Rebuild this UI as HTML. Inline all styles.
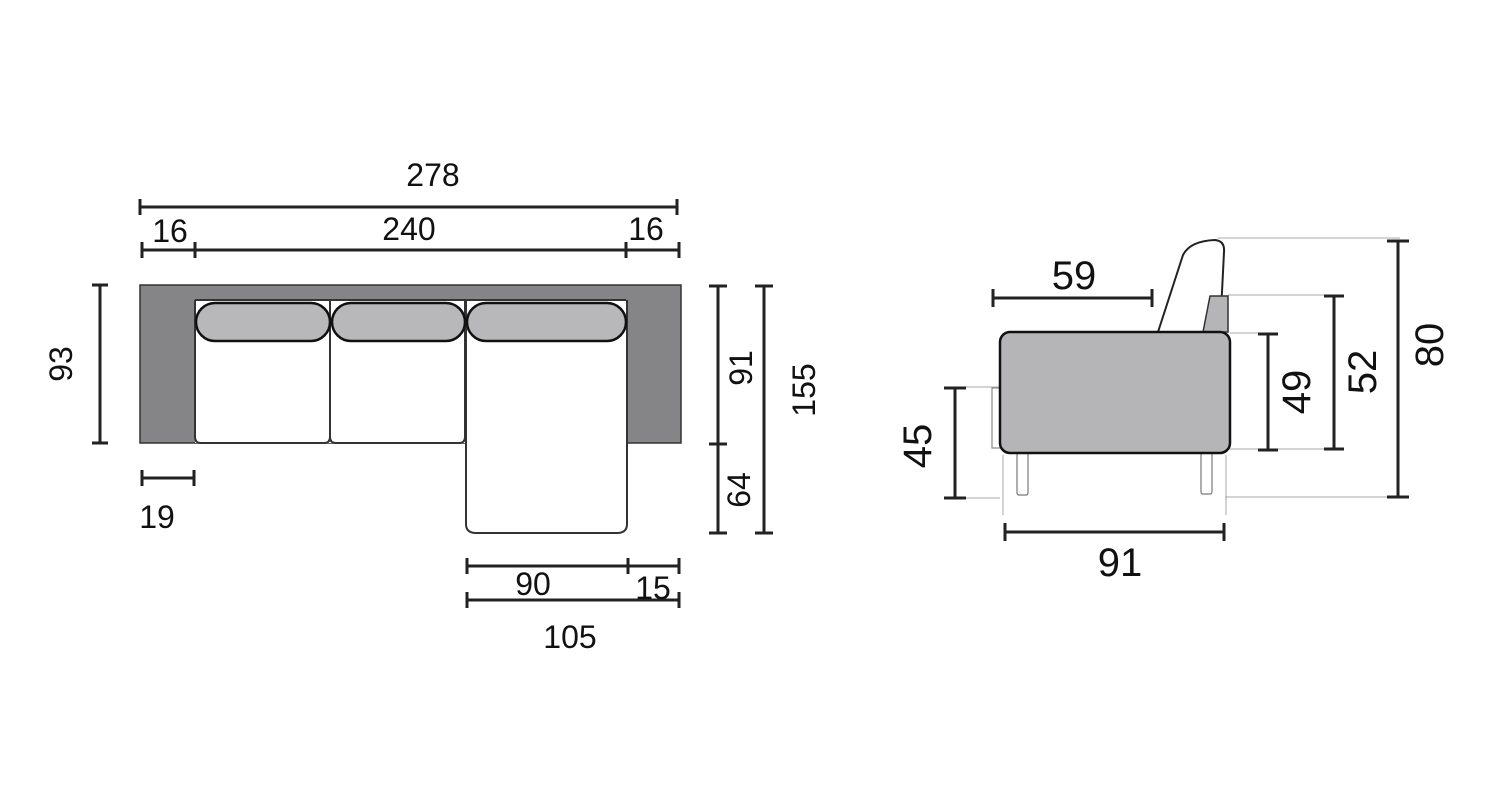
<!DOCTYPE html>
<html><head><style>
html,body{margin:0;padding:0;background:#fff;}
svg{display:block;}
text{font-family:"Liberation Sans",sans-serif;fill:#111;}
</style></head><body>
<svg width="1500" height="800" viewBox="0 0 1500 800" xmlns="http://www.w3.org/2000/svg">
<g stroke="#222" stroke-width="3" fill="none">
  <line x1="140" y1="207" x2="677" y2="207"/><line x1="140" y1="199" x2="140" y2="215"/><line x1="677" y1="199" x2="677" y2="215"/>
  <line x1="142" y1="250" x2="679" y2="250"/>
  <line x1="142" y1="242" x2="142" y2="258"/><line x1="195" y1="242" x2="195" y2="258"/><line x1="626" y1="242" x2="626" y2="258"/><line x1="679" y1="242" x2="679" y2="258"/>
  <line x1="100" y1="285" x2="100" y2="443"/><line x1="92" y1="285" x2="108" y2="285"/><line x1="92" y1="443" x2="108" y2="443"/>
  <line x1="718" y1="286" x2="718" y2="533"/><line x1="709" y1="286" x2="727" y2="286"/><line x1="709" y1="444" x2="727" y2="444"/><line x1="709" y1="533" x2="727" y2="533"/>
  <line x1="764" y1="286" x2="764" y2="533"/><line x1="755" y1="286" x2="773" y2="286"/><line x1="755" y1="533" x2="773" y2="533"/>
  <line x1="142" y1="478" x2="194" y2="478"/><line x1="142" y1="470" x2="142" y2="486"/><line x1="194" y1="470" x2="194" y2="486"/>
  <line x1="467" y1="566" x2="679" y2="566"/><line x1="467" y1="558" x2="467" y2="574"/><line x1="628" y1="558" x2="628" y2="574"/><line x1="679" y1="558" x2="679" y2="574"/>
  <line x1="467" y1="600" x2="679" y2="600"/><line x1="467" y1="592" x2="467" y2="608"/><line x1="679" y1="592" x2="679" y2="608"/>
</g>
<rect x="140" y="285" width="541" height="158" fill="#858588" stroke="#333" stroke-width="1.5"/>
<rect x="195" y="300" width="431" height="143" fill="#fff"/>
<g fill="#fff" stroke="#333" stroke-width="2">
  <path d="M195 300 V437 Q195 443 201 443 H324 Q330 443 330 437 V300"/>
  <path d="M330 300 V437 Q330 443 336 443 H459 Q465 443 465 437 V300"/>
  <path d="M466 300 V524 Q466 533 476 533 H617 Q627 533 627 524 V300"/>
</g>
<line x1="195" y1="300" x2="626" y2="300" stroke="#333" stroke-width="2"/>
<g fill="#b8b8ba" stroke="#111" stroke-width="2.5">
  <rect x="196" y="303" width="134" height="38" rx="19"/>
  <rect x="332" y="303" width="133" height="38" rx="19"/>
  <rect x="467" y="303" width="159" height="38" rx="19"/>
</g>
<g font-size="32" text-anchor="middle">
  <text x="433" y="186">278</text>
  <text x="170" y="242">16</text>
  <text x="409" y="240">240</text>
  <text x="646" y="240">16</text>
  <text x="157" y="528">19</text>
  <text x="533" y="595">90</text>
  <text x="653" y="599">15</text>
  <text x="570" y="648">105</text>
  <text transform="translate(72,364) rotate(-90)">93</text>
  <text transform="translate(752,368) rotate(-90)">91</text>
  <text transform="translate(750,490) rotate(-90)">64</text>
  <text transform="translate(815,390) rotate(-90)">155</text>
</g>
<g stroke="#aaa" stroke-width="1" fill="none">
  <line x1="1218" y1="238" x2="1400" y2="238"/>
  <line x1="1228" y1="295" x2="1340" y2="295"/>
  <line x1="1230" y1="333" x2="1275" y2="333"/>
  <line x1="1228" y1="449" x2="1340" y2="449"/>
  <line x1="1225" y1="497" x2="1400" y2="497"/>
  <line x1="955" y1="387" x2="1000" y2="387"/>
  <line x1="955" y1="498" x2="1000" y2="498"/>
  <line x1="1003" y1="455" x2="1003" y2="515"/>
  <line x1="1226" y1="455" x2="1226" y2="515"/>
</g>
<path d="M1158 332 L1183 255 Q1190 241 1215 240 Q1225 241 1224 252 L1220 332" fill="#fff" stroke="#222" stroke-width="2"/>
<path d="M1203 332 L1210 296 H1228 V332 Z" fill="#b5b5b8" stroke="#333" stroke-width="1.5"/>
<rect x="992" y="388" width="9" height="60" fill="#fff" stroke="#888" stroke-width="1.2"/>
<rect x="1017" y="453" width="11" height="42" rx="2" fill="#fff" stroke="#777" stroke-width="1.2"/>
<rect x="1201" y="453" width="11" height="41" rx="2" fill="#fff" stroke="#777" stroke-width="1.2"/>
<rect x="1000" y="332" width="230" height="121" rx="10" fill="#b5b5b8" stroke="#111" stroke-width="2.5"/>
<g stroke="#222" stroke-width="3" fill="none">
  <line x1="993" y1="298" x2="1152" y2="298"/><line x1="993" y1="289" x2="993" y2="307"/><line x1="1152" y1="289" x2="1152" y2="307"/>
  <line x1="955" y1="388" x2="955" y2="498"/><line x1="944" y1="388" x2="966" y2="388"/><line x1="944" y1="498" x2="966" y2="498"/>
  <line x1="1268" y1="334" x2="1268" y2="450"/><line x1="1258" y1="334" x2="1278" y2="334"/><line x1="1258" y1="450" x2="1278" y2="450"/>
  <line x1="1334" y1="296" x2="1334" y2="449"/><line x1="1324" y1="296" x2="1344" y2="296"/><line x1="1324" y1="449" x2="1344" y2="449"/>
  <line x1="1398" y1="241" x2="1398" y2="497"/><line x1="1387" y1="241" x2="1409" y2="241"/><line x1="1387" y1="497" x2="1409" y2="497"/>
  <line x1="1005" y1="532" x2="1224" y2="532"/><line x1="1005" y1="523" x2="1005" y2="541"/><line x1="1224" y1="523" x2="1224" y2="541"/>
</g>
<g font-size="40" text-anchor="middle">
  <text x="1074" y="289">59</text>
  <text x="1120" y="576">91</text>
  <text transform="translate(931,446) rotate(-90)">45</text>
  <text transform="translate(1310,392) rotate(-90)">49</text>
  <text transform="translate(1376,372) rotate(-90)">52</text>
  <text transform="translate(1443,345) rotate(-90)">80</text>
</g>
</svg>
</body></html>
